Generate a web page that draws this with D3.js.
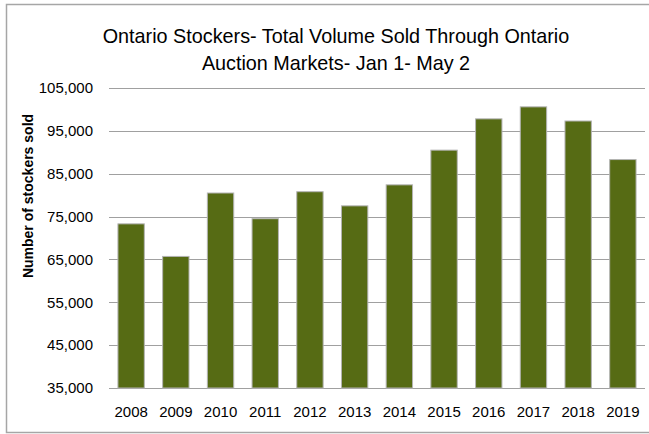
<!DOCTYPE html>
<html>
<head>
<meta charset="utf-8">
<script src="https://cdn.jsdelivr.net/npm/d3@7"></script>
<style>
  body { margin: 0; background: #fff; }
  text { font-family: "Liberation Sans", Arial, sans-serif; fill: #000; }
</style>
</head>
<body>
<script>
// data
const years = ["2008", "2009", "2010", "2011", "2012", "2013", "2014", "2015", "2016", "2017", "2018", "2019"];
const stockers = [73300, 65700, 80500, 74500, 80800, 77500, 82400, 90500, 97800, 100600, 97300, 88300];
const yTicks = [35000, 45000, 55000, 65000, 75000, 85000, 95000, 105000];
const titleLines = ["Ontario Stockers- Total Volume Sold Through Ontario", "Auction Markets- Jan 1- May 2"];

const W = 649, H = 434;
const margin = { top: 88, right: 4, bottom: 46, left: 109 };
const width = W - margin.left - margin.right,
      height = H - margin.top - margin.bottom;

const svg = d3.select("body").append("svg")
    .attr("width", W)
    .attr("height", H);

// outer chart frame
svg.append("rect")
    .attr("x", 6.5).attr("y", 4.5)
    .attr("width", W + 10).attr("height", 428)
    .attr("fill", "none")
    .attr("stroke", "#a6a6a6")
    .attr("stroke-width", 1.5);

// title
svg.append("g").selectAll("text")
    .data(titleLines)
    .join("text")
    .attr("x", 336)
    .attr("y", (d, i) => 43 + i * 26.5)
    .attr("text-anchor", "middle")
    .style("font-size", "19.8px")
    .text(d => d);

const g = svg.append("g")
    .attr("transform", `translate(${margin.left},${margin.top})`);

const x = d3.scaleBand()
    .domain(years)
    .range([0, width])
    .paddingInner(0.41)
    .paddingOuter(0.2);

const y = d3.scaleLinear()
    .domain([35000, 105000])
    .range([height, 0]);

// gridlines
g.append("g")
    .selectAll("line")
    .data(yTicks)
    .join("line")
    .attr("x1", 0).attr("x2", width)
    .attr("y1", d => Math.round(y(d)) + 0.5)
    .attr("y2", d => Math.round(y(d)) + 0.5)
    .attr("stroke", "#a0a0a0")
    .attr("stroke-width", 1);

// bars
g.append("g")
    .selectAll("rect")
    .data(stockers)
    .join("rect")
    .attr("x", (d, i) => x(years[i]))
    .attr("y", d => y(d))
    .attr("width", x.bandwidth())
    .attr("height", d => height - y(d))
    .attr("fill", "#566b14")
    .attr("stroke", "#b4b4b4")
    .attr("stroke-width", 1);

// y axis (labels only)
const yAxis = g.append("g")
    .call(d3.axisLeft(y).tickValues(yTicks).tickFormat(d3.format(",")).tickSize(0).tickPadding(16));
yAxis.select(".domain").remove();
yAxis.selectAll("text").style("font-size", "15px").attr("font-family", null);

// x axis (labels only)
const xAxis = g.append("g")
    .attr("transform", `translate(0,${height})`)
    .call(d3.axisBottom(x).tickSize(0).tickPadding(18));
xAxis.select(".domain").remove();
xAxis.selectAll("text").style("font-size", "15px").attr("font-family", null);

// y axis title
svg.append("text")
    .attr("transform", "translate(33,196) rotate(-90)")
    .attr("text-anchor", "middle")
    .style("font-size", "14px")
    .style("font-weight", "bold")
    .text("Number of stockers sold");
</script>
</body>
</html>
